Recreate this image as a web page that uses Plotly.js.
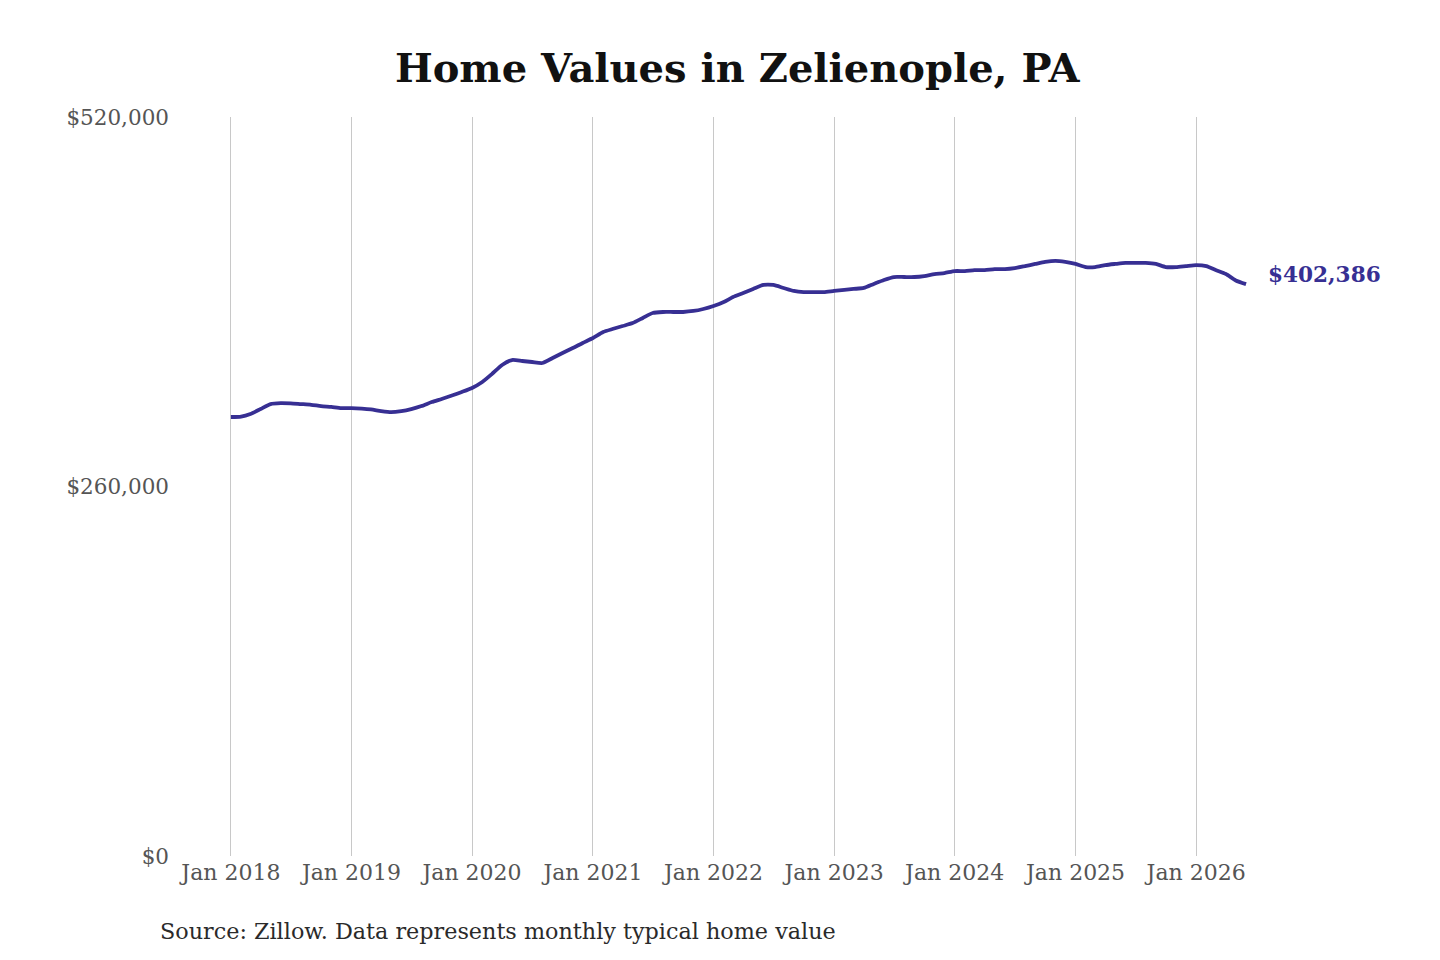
<!DOCTYPE html>
<html>
<head>
<meta charset="utf-8">
<script src="https://cdn.plot.ly/plotly-3.0.1.min.js"></script>
<style>
  html, body { margin: 0; padding: 0; background: #fff; }
  #chart { width: 1440px; height: 960px; }
</style>
</head>
<body>
<div id="chart"></div>
<script>
// monthly typical home value, Jan 2018 .. Jun 2026 (thousands of dollars)
var startYear = 2018;
var homeValues = [
  308.9, 309.2, 311.0, 314.5, 318.0, 318.7, 318.5, 318.0, 317.5, 316.6, 316.0, 315.2,
  315.2, 314.8, 314.2, 313.1, 312.4, 313.1, 314.5, 316.6, 319.4, 321.6, 324.0, 326.5,
  329.3, 333.5, 339.1, 345.5, 349.0, 348.3, 347.6, 346.9, 350.4, 353.9, 357.4, 361.0,
  364.5, 368.7, 370.8, 372.9, 375.0, 378.6, 382.1, 382.8, 382.8, 382.8, 383.5, 384.9,
  387.0, 389.8, 393.3, 396.1, 399.0, 401.8, 401.8, 399.7, 397.6, 396.8, 396.8, 396.8,
  397.6, 398.3, 399.0, 399.7, 402.5, 405.3, 407.4, 407.4, 407.4, 408.1, 409.5, 410.2,
  411.6, 411.6, 412.3, 412.3, 413.0, 413.0, 413.7, 415.1, 416.6, 418.0, 418.7, 418.0,
  416.6, 414.4, 414.4, 415.8, 416.6, 417.3, 417.3, 417.3, 416.6, 414.4, 414.4, 415.1,
  415.8, 415.1, 412.3, 409.5, 405.0, 402.386
];
var yTickVals = [0, 260000, 520000];
var yTickText = ['$0', '$260,000', '$520,000'];
var xTickVals = ['2018-01-01', '2019-01-01', '2020-01-01', '2021-01-01', '2022-01-01',
                 '2023-01-01', '2024-01-01', '2025-01-01', '2026-01-01'];
var xTickText = ['Jan 2018', 'Jan 2019', 'Jan 2020', 'Jan 2021', 'Jan 2022',
                 'Jan 2023', 'Jan 2024', 'Jan 2025', 'Jan 2026'];
var chartTitle = 'Home Values in Zelienople, PA';
var sourceNote = 'Source: Zillow. Data represents monthly typical home value';
var lineColor = '#372f93';

function month_dates(n) {
  var out = [];
  for (var i = 0; i < n; i++) {
    var y = startYear + Math.floor(i / 12);
    var m = (i % 12) + 1;
    out.push(y + '-' + (m < 10 ? '0' + m : m) + '-01');
  }
  return out;
}

var dates = month_dates(homeValues.length);
var values = homeValues.map(function (v) { return Math.round(v * 1000); });
var lastVal = values[values.length - 1];

var trace = {
  x: dates,
  y: values,
  type: 'scatter',
  mode: 'lines',
  line: { color: lineColor, width: 3.8, shape: 'spline', smoothing: 0.6 },
  hoverinfo: 'skip'
};

var serif = 'DejaVu Serif, serif';

var layout = {
  width: 1440,
  height: 960,
  margin: { l: 180, r: 190, t: 117, b: 104, pad: 0 },
  paper_bgcolor: '#ffffff',
  plot_bgcolor: '#ffffff',
  showlegend: false,
  title: {
    text: '<b>' + chartTitle + '</b>',
    x: 0.512,
    xanchor: 'center',
    y: 0.929,
    yanchor: 'middle',
    font: { family: serif, size: 40, color: '#111111' }
  },
  xaxis: {
    type: 'date',
    range: ['2017-07-31', '2026-06-13'],
    tickvals: xTickVals,
    ticktext: xTickText,
    showgrid: true,
    gridcolor: '#c8c8c8',
    gridwidth: 1,
    zeroline: false,
    showline: false,
    ticks: '',
    ticklabelstandoff: 1,
    tickfont: { family: serif, size: 22, color: '#555555' }
  },
  yaxis: {
    range: [0, 520000],
    tickvals: yTickVals,
    ticktext: yTickText,
    showgrid: false,
    zeroline: false,
    showline: false,
    ticks: '',
    ticklabelstandoff: 10,
    tickfont: { family: serif, size: 21.5, color: '#555555' }
  },
  annotations: [
    {
      x: dates[dates.length - 1],
      y: lastVal,
      xref: 'x',
      yref: 'y',
      text: '<b>$' + lastVal.toLocaleString('en-US') + '</b>',
      showarrow: false,
      xanchor: 'left',
      yanchor: 'middle',
      xshift: 20,
      yshift: 10,
      font: { family: serif, size: 21.6, color: lineColor }
    },
    {
      x: 158,
      y: 931,
      xref: 'paper',
      yref: 'paper',
      text: sourceNote,
      showarrow: false,
      xanchor: 'left',
      yanchor: 'middle',
      font: { family: serif, size: 22.3, color: '#2a2a2a' }
    }
  ]
};

// source note is positioned in pixels, convert to paper coords
var plotW = layout.width - layout.margin.l - layout.margin.r;
var plotH = layout.height - layout.margin.t - layout.margin.b;
layout.annotations[1].x = (158 - layout.margin.l) / plotW;
layout.annotations[1].y = (layout.height - layout.margin.b - 931) / plotH;

Plotly.newPlot('chart', [trace], layout, { displayModeBar: false, staticPlot: true });
</script>
</body>
</html>
